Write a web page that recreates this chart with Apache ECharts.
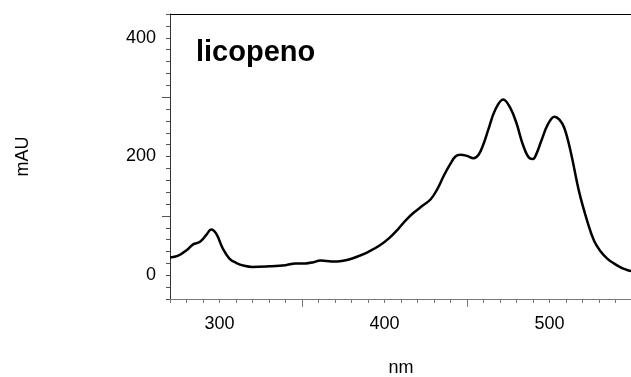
<!DOCTYPE html>
<html>
<head>
<meta charset="utf-8">
<script src="https://cdn.jsdelivr.net/npm/echarts@6/dist/echarts.min.js"></script>
<style>
html,body{margin:0;padding:0;background:#fff;}
#main{width:631px;height:377px;}
</style>
</head>
<body>
<div id="main"></div>
<script>
// spectrum
var wavelength = [270, 275, 280, 284, 288, 292, 295, 298, 302, 306, 310, 315, 320, 330, 340, 346, 352, 357, 361, 365, 369, 374, 379, 385, 390, 397, 403, 408, 413, 418, 423, 428, 432, 436, 440, 443, 446, 450, 454, 457, 460, 463, 467, 472, 476, 480, 484, 488, 490, 492, 495, 499, 503, 506, 509, 513, 518, 523, 527, 531, 535, 539, 544, 548, 550];
var absorbance = [30, 33, 42, 52, 56, 68, 77, 70, 45, 28, 21, 16, 14, 15, 17, 20, 20, 22, 25, 24, 23, 24, 27, 33, 39, 50, 63, 77, 93, 106, 117, 128, 145, 168, 188, 200, 203, 201, 197, 203, 221, 246, 278, 296, 283, 256, 219, 197, 196, 204, 226, 254, 267, 262, 248, 206, 140, 90, 58, 40, 28, 20, 12, 8, 7];
var xLabels = [300, 400, 500];
var yLabels = [0, 200, 400];
var xLongTicks = [350, 450];
var yLongTicks = [100, 300];

var data = wavelength.map(function (w, i) { return [w, absorbance[i]]; });

var myChart = echarts.init(document.getElementById('main'));

var labelFont = { fontFamily: 'Liberation Sans', fontSize: 18, color: '#000' };

var option = {
    animation: false,
    grid: { left: 170, top: 14, width: 462, height: 285, containLabel: false, outerBoundsMode: 'none' },
    graphic: [{
        type: 'text',
        left: 196,
        top: 38,
        style: { text: 'licopeno', font: 'bold 29px "Liberation Sans"', fill: '#000' }
    }],
    xAxis: [
        {
            type: 'value', min: 270, max: 550, interval: 10,
            name: 'nm', nameLocation: 'middle', nameGap: 60,
            nameTextStyle: { fontFamily: 'Liberation Sans', fontSize: 18, color: '#000' },
            axisLine: { onZero: false, lineStyle: { color: '#777', width: 1 } },
            axisTick: { length: 4, lineStyle: { color: '#777' } },
            axisLabel: Object.assign({ margin: 16, customValues: xLabels }, labelFont),
            splitLine: { show: false }
        },
        {
            type: 'value', min: 270, max: 550, position: 'bottom',
            axisLine: { show: false, onZero: false },
            axisTick: { length: 8, customValues: xLongTicks, lineStyle: { color: '#777' } },
            axisLabel: { show: false },
            splitLine: { show: false }
        },
        {
            type: 'value', min: 270, max: 550, position: 'top',
            axisLine: { onZero: false, lineStyle: { color: '#000', width: 1 } },
            axisTick: { show: false },
            axisLabel: { show: false },
            splitLine: { show: false }
        }
    ],
    yAxis: [
        {
            type: 'value', min: -40, max: 440, interval: 20,
            name: 'mAU', nameLocation: 'middle', nameGap: 138, nameRotate: 90,
            nameTextStyle: { fontFamily: 'Liberation Sans', fontSize: 18, color: '#000' },
            axisLine: { show: true, onZero: false, lineStyle: { color: '#333', width: 1 } },
            axisTick: { show: true, length: 4, lineStyle: { color: '#555' } },
            axisLabel: Object.assign({ margin: 14, customValues: yLabels }, labelFont),
            splitLine: { show: false }
        },
        {
            type: 'value', min: -40, max: 440, position: 'left',
            axisLine: { show: false, onZero: false },
            axisTick: { show: true, length: 8, customValues: yLongTicks, lineStyle: { color: '#555' } },
            axisLabel: { show: false },
            splitLine: { show: false }
        }
    ],
    series: [
        {
            type: 'line',
            data: data,
            smooth: 0.4,
            showSymbol: false,
            lineStyle: { color: '#000', width: 2.5 }
        }
    ]
};

myChart.setOption(option);

window.onresize = function () {
    myChart.resize();
};
</script>
</body>
</html>
